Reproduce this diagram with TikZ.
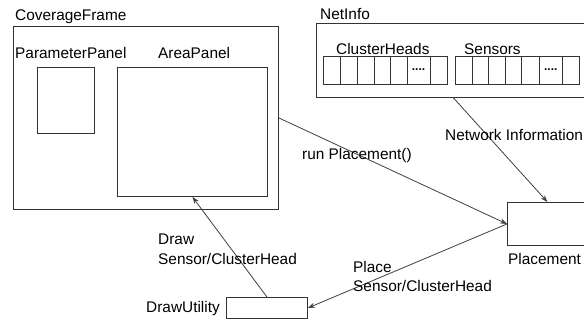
\documentclass[tikz,border=0pt]{standalone}
\usepackage{fontspec}
\setmainfont{Liberation Sans}
\usetikzlibrary{arrows.meta}
\begin{document}
\begin{tikzpicture}[x=1pt,y=-1pt,
  box/.style={draw=black!80, line width=0.9pt, inner sep=0pt, anchor=north west},
  lbl/.style={inner sep=0pt, anchor=base west, font=\fontsize{15.4}{20}\selectfont},
  cellline/.style={draw=black!80, line width=0.8pt},
  dots/.style={inner sep=0pt, anchor=base, font=\fontsize{12}{12}\selectfont\bfseries},
  arr/.style={draw=black!75, line width=0.8pt, -{Stealth[length=7pt,width=5pt]}}]
\clip (0,0) rectangle (584,320);
\fill[white] (0,0) rectangle (584,320);
% CoverageFrame
\node[lbl] (cfl) at (15,21) {CoverageFrame};
\node[box, minimum width=265pt, minimum height=183pt] (cf) at (13,26) {};
\node[lbl] (ppl) at (15,59) {ParameterPanel};
\node[box, minimum width=57pt, minimum height=66pt] (pp) at (37,67) {};
\node[lbl] (apl) at (158,59) {AreaPanel};
\node[box, minimum width=150pt, minimum height=129pt] (ap) at (117,67) {};
% NetInfo
\node[lbl] (nil) at (320,19.5) {NetInfo};
\node[box, minimum width=274pt, minimum height=74pt] (ni) at (316,23) {};
\node[lbl] (chl) at (336,55) {ClusterHeads};
\node[lbl] (sel) at (464,55) {Sensors};
\draw[cellline] (323.5,56) rectangle (447,84);
\foreach \x in {340.5,357,374,390.5,407,430} \draw[cellline] (\x,56) -- (\x,84);
\node[dots] (chd) at (418.5,71) {....};
\draw[cellline] (455.5,56) rectangle (579,84);
\foreach \x in {472,488.5,505,521.5,539,562.5} \draw[cellline] (\x,56) -- (\x,84);
\node[dots] (sed) at (550.75,71) {....};
% Placement
\node[box, minimum width=80pt, minimum height=43pt] (pl) at (507,202) {};
\node[lbl] (pll) at (508,265) {Placement};
% DrawUtility
\node[box, minimum width=81pt, minimum height=21pt] (du) at (226,297) {};
\node[lbl, anchor=base east] (dul) at (220,313) {DrawUtility};
% arrows
\draw[arr] (cf.east) -- (pl.west);
\draw[arr] (ni.south) -- (pl.north);
\draw[arr] (pl.west) -- (du.east);
\draw[arr] (du.north) -- (ap.south);
% arrow labels
\node[lbl] (l1) at (302,160) {run Placement()};
\node[lbl] (l2) at (445,141) {Network Information};
\node[lbl] (l3a) at (353,273) {Place};
\node[lbl] (l3b) at (353,292) {Sensor/ClusterHead};
\node[lbl] (l4a) at (158,245) {Draw};
\node[lbl] (l4b) at (158,265) {Sensor/ClusterHead};
\end{tikzpicture}
\end{document}
